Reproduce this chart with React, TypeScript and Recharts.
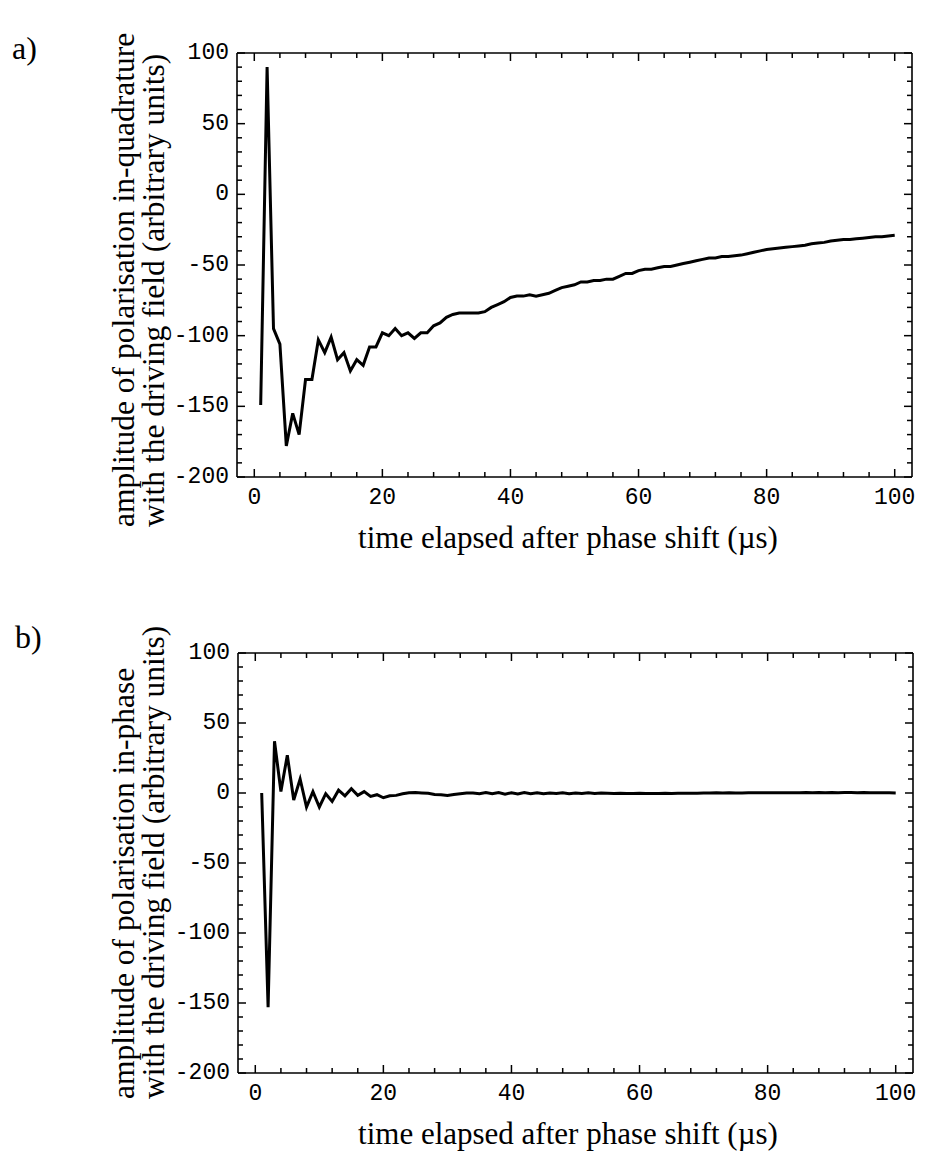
import React from 'react';
import { LineChart, Line, XAxis, YAxis } from 'recharts';

// time elapsed after phase shift (µs)
const timeUs = [
  1, 2, 3, 4, 5, 6, 7, 8, 9, 10,
  11, 12, 13, 14, 15, 16, 17, 18, 19, 20,
  21, 22, 23, 24, 25, 26, 27, 28, 29, 30,
  31, 32, 33, 34, 35, 36, 37, 38, 39, 40,
  41, 42, 43, 44, 45, 46, 47, 48, 49, 50,
  51, 52, 53, 54, 55, 56, 57, 58, 59, 60,
  61, 62, 63, 64, 65, 66, 67, 68, 69, 70,
  71, 72, 73, 74, 75, 76, 77, 78, 79, 80,
  81, 82, 83, 84, 85, 86, 87, 88, 89, 90,
  91, 92, 93, 94, 95, 96, 97, 98, 99, 100,
];

// a) amplitude in quadrature with the driving field
const quadrature = [
  -149, 90, -95, -106, -178, -155, -170, -131, -131, -103,
  -112, -101, -117, -112, -125, -117, -121, -108, -108, -98,
  -100, -95, -100, -98, -102, -98, -98, -93, -91, -87,
  -85, -84, -84, -84, -84, -83, -80, -78, -76, -73,
  -72, -72, -71, -72, -71, -70, -68, -66, -65, -64,
  -62, -62, -61, -61, -60, -60, -58, -56, -56, -54,
  -53, -53, -52, -51, -51, -50, -49, -48, -47, -46,
  -45, -45, -44, -44, -43.5, -43, -42, -41, -40, -39,
  -38.5, -38, -37.5, -37, -36.5, -36, -35, -34.5, -34, -33,
  -32.5, -32, -32, -31.5, -31, -30.5, -30, -30, -29.5, -29,
];

// b) amplitude in phase with the driving field
const inPhase = [
  0, -153, 37, 1, 27, -5, 10, -10, 1, -10,
  -0.5, -6, 2, -2, 3, -1.7, 1, -2.4, -1.2, -3.4,
  -2, -1.7, -0.5, 0.2, 0.3, 0, -0.2, -1, -1.2, -1.7,
  -1, -0.5, 0, 0, -0.5, 0.3, -0.6, 0.4, -0.8, 0.2,
  -0.7, 0.3, -0.5, 0.2, -0.6, 0, -0.4, 0.2, -0.5, 0,
  -0.3, 0.1, -0.3, 0, -0.2, -0.3, -0.2, -0.4, -0.3, -0.2,
  -0.3, -0.4, -0.3, -0.2, -0.3, -0.2, -0.1, -0.2, -0.1, 0,
  0, 0.1, 0, 0.1, 0, 0, 0.1, 0.2, 0.1, 0.2,
  0.1, 0.2, 0.2, 0.1, 0.2, 0.3, 0.2, 0.3, 0.2, 0.3,
  0.2, 0.3, 0.3, 0.2, 0.3, 0.2, 0.2, 0.1, 0.1, 0,
];

const xTicks = [0, 4, 8, 12, 16, 20, 24, 28, 32, 36, 40, 44, 48, 52, 56, 60, 64, 68, 72, 76, 80, 84, 88, 92, 96, 100];
const xMajor = [0, 20, 40, 60, 80, 100];
const yTicks = [-200, -190, -180, -170, -160, -150, -140, -130, -120, -110, -100, -90, -80, -70, -60, -50, -40, -30, -20, -10, 0, 10, 20, 30, 40, 50, 60, 70, 80, 90, 100];
const yMajor = [-200, -150, -100, -50, 0, 50, 100];

const xTitle = 'time elapsed after phase shift (\u00b5s)';
const titleA = ['amplitude of polarisation in-quadrature', 'with the driving field (arbitrary units)'];
const titleB = ['amplitude of polarisation in-phase', 'with the driving field (arbitrary units)'];

const SERIF = '"Liberation Serif", "Times New Roman", serif';
const MONO = '"Liberation Mono", "Courier New", monospace';

const makeXTick = (side: 'bottom' | 'top') => (p: any) => {
  const { x, y, payload } = p;
  const v = payload.value;
  const major = xMajor.includes(v);
  const len = major ? 8 : 5;
  const d = side === 'bottom' ? -1 : 1;
  return (
    <g key={`${side}-${v}`}>
      <line x1={x} y1={y} x2={x} y2={y + d * len} stroke="#000" strokeWidth={1.5} />
      {side === 'bottom' && major ? (
        <text x={x} y={y + 27} textAnchor="middle" fontFamily={MONO} fontSize={23} fill="#000">
          {v}
        </text>
      ) : null}
    </g>
  );
};

const makeYTick = (side: 'left' | 'right') => (p: any) => {
  const { x, y, payload } = p;
  const v = payload.value;
  const major = yMajor.includes(v);
  const len = major ? 8 : 5;
  const d = side === 'left' ? 1 : -1;
  return (
    <g key={`${side}-${v}`}>
      <line x1={x} y1={y} x2={x + d * len} y2={y} stroke="#000" strokeWidth={1.5} />
      {side === 'left' && major ? (
        <text x={x - 8} y={y} textAnchor="end" dominantBaseline="central" fontFamily={MONO} fontSize={23} fill="#000">
          {v}
        </text>
      ) : null}
    </g>
  );
};

type PanelProps = {
  values: number[];
  lines: string[];
  height: number;
  top: number;
  bottomAxis: number;
  leftAxis: number;
  right: number;
  titleStart: number;
};

function Panel({ values, lines, height, top, bottomAxis, leftAxis, right, titleStart }: PanelProps) {
  const data = timeUs.map((t, i) => ({ t, v: values[i] }));
  const plotBottom = height - bottomAxis;
  const yLabel = () => (
    <g>
      <text x={123} y={titleStart} transform={`rotate(-90 123 ${titleStart})`} textAnchor="start" dominantBaseline="central" fontFamily={SERIF} fontSize={31.5} fill="#000">
        {lines[0]}
      </text>
      <text x={153} y={titleStart} transform={`rotate(-90 153 ${titleStart})`} textAnchor="start" dominantBaseline="central" fontFamily={SERIF} fontSize={31.5} fill="#000">
        {lines[1]}
      </text>
    </g>
  );
  const xLabel = () => (
    <text x={568} y={plotBottom + 60} textAnchor="middle" dominantBaseline="central" fontFamily={SERIF} fontSize={31} fill="#000">
      {xTitle}
    </text>
  );
  const axisLine = { stroke: '#000', strokeWidth: 1.6 };
  const domainX: [number, number] = [-2.7, 102.7];
  const domainY: [number, number] = [-200, 100];
  return (
    <LineChart width={925} height={height} data={data} margin={{ top: top - 1, right: right - 1, bottom: 0, left: 0 }}>
      <XAxis xAxisId="b" dataKey="t" type="number" domain={domainX} ticks={xTicks} interval={0} allowDataOverflow
        height={bottomAxis} tickSize={0} tickMargin={0} axisLine={axisLine} tickLine={false} tick={makeXTick('bottom')} label={xLabel} />
      <XAxis xAxisId="t" orientation="top" dataKey="t" type="number" domain={domainX} ticks={xTicks} interval={0} allowDataOverflow
        height={1} tickSize={0} tickMargin={0} axisLine={axisLine} tickLine={false} tick={makeXTick('top')} />
      <YAxis yAxisId="l" type="number" domain={domainY} ticks={yTicks} interval={0} allowDataOverflow
        width={leftAxis} tickSize={0} tickMargin={0} axisLine={axisLine} tickLine={false} tick={makeYTick('left')} label={yLabel} />
      <YAxis yAxisId="r" orientation="right" type="number" domain={domainY} ticks={yTicks} interval={0} allowDataOverflow
        width={1} tickSize={0} tickMargin={0} axisLine={axisLine} tickLine={false} tick={makeYTick('right')} />
      <Line xAxisId="b" yAxisId="l" type="linear" dataKey="v" stroke="#000" strokeWidth={3} dot={false}
        activeDot={false} isAnimationActive={false} strokeLinejoin="miter" />
    </LineChart>
  );
}

export default function App() {
  return (
    <div style={{ position: 'absolute', left: 0, top: 0, width: 925, height: 1151, background: '#fff' }}>
      <div style={{ position: 'absolute', left: 12, top: 30, fontFamily: SERIF, fontSize: 32, lineHeight: 'normal' }}>a)</div>
      <div style={{ position: 'absolute', left: 15, top: 619, fontFamily: SERIF, fontSize: 32, lineHeight: 'normal' }}>b)</div>
      <div style={{ position: 'absolute', left: 0, top: 0 }}>
        <Panel values={quadrature} lines={titleA} height={575} top={53} bottomAxis={98} leftAxis={237} right={13} titleStart={527} />
      </div>
      <div style={{ position: 'absolute', left: 0, top: 575 }}>
        <Panel values={inPhase} lines={titleB} height={576} top={78} bottomAxis={78} leftAxis={238} right={12} titleStart={524} />
      </div>
    </div>
  );
}
